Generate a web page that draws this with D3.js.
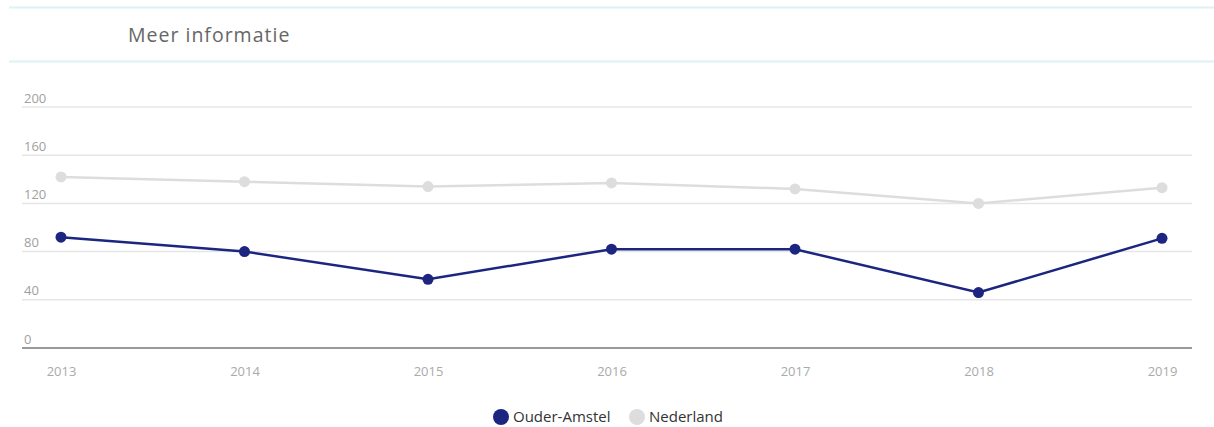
<!DOCTYPE html>
<html>
<head>
<meta charset="utf-8">
<script src="https://cdn.jsdelivr.net/npm/d3@7"></script>
<style>
    body { margin: 0; background: #fff; font-family: "Open Sans", sans-serif; }
</style>
</head>
<body>
<div id="chart"></div>
<script>
// chart data
var years = ["2013", "2014", "2015", "2016", "2017", "2018", "2019"];
var ouderAmstel = [92, 80, 57, 82, 82, 46, 91];
var nederland = [142, 138, 134, 137, 132, 120, 133];
var yTicks = [0, 40, 80, 120, 160, 200];
var seriesNames = ["Ouder-Amstel", "Nederland"];
var seriesColors = ["#1c2580", "#dddddd"];

var width = 1214, height = 427;
var margin = {top: 107, right: 22, bottom: 79, left: 22};

var svg = d3.select("#chart")
    .append("svg")
    .attr("width", width)
    .attr("height", height);

// header block
svg.append("line")
    .attr("x1", 9).attr("x2", width).attr("y1", 7.5).attr("y2", 7.5)
    .attr("stroke", "#e0f1f1").attr("stroke-width", 2);
svg.append("line")
    .attr("x1", 9).attr("x2", width).attr("y1", 61.5).attr("y2", 61.5)
    .attr("stroke", "#e0f1f1").attr("stroke-width", 2);
svg.append("text")
    .attr("x", 128).attr("y", 42)
    .style("font-family", "Open Sans, sans-serif")
    .style("font-size", "19.5px")
    .style("letter-spacing", "1px")
    .style("fill", "#666")
    .text("Meer informatie");

var plotW = width - margin.left - margin.right;
var plotH = height - margin.top - margin.bottom;

var g = svg.append("g")
    .attr("transform", "translate(" + margin.left + "," + margin.top + ")");

var x = d3.scalePoint()
    .domain(years)
    .range([39, plotW - 30]);

var y = d3.scaleLinear()
    .domain([0, 200])
    .range([plotH, 0]);

// gridlines + y labels
var grid = g.selectAll(".grid")
    .data(yTicks)
    .enter().append("g")
    .attr("class", "grid")
    .attr("transform", function (d) { return "translate(0," + y(d) + ")"; });

grid.append("line")
    .attr("x1", 0).attr("x2", plotW)
    .attr("stroke", function (d) { return d === 0 ? "#777" : "#e6e6e6"; })
    .attr("stroke-width", 1.5);

grid.append("text")
    .attr("x", 2).attr("y", -4.5)
    .style("font-size", "13px")
    .style("fill", "#a0a0a0")
    .text(function (d) { return d; });

// x axis labels
var xAxis = d3.axisBottom(x).tickSize(0);
g.append("g")
    .attr("transform", "translate(0," + plotH + ")")
    .call(xAxis)
    .call(function (s) { s.select(".domain").remove(); })
    .selectAll("text")
    .attr("y", 28)
    .attr("dy", 0)
    .style("font-family", "Open Sans, sans-serif")
    .style("font-size", "13px")
    .style("fill", "#aaa");

var line = d3.line()
    .x(function (d, i) { return x(years[i]); })
    .y(function (d) { return y(d); });

// draw Nederland first so Ouder-Amstel is on top
[nederland, ouderAmstel].forEach(function (vals) {
    var color = vals === ouderAmstel ? seriesColors[0] : seriesColors[1];
    g.append("path")
        .datum(vals)
        .attr("fill", "none")
        .attr("stroke", color)
        .attr("stroke-width", 2.5)
        .attr("d", line);
    g.selectAll(null)
        .data(vals)
        .enter().append("circle")
        .attr("cx", function (d, i) { return x(years[i]); })
        .attr("cy", function (d) { return y(d); })
        .attr("r", 5.5)
        .attr("fill", color);
});

// legend
var legend = svg.append("g").attr("transform", "translate(501,417)");
var legendX = [0, 136];
var items = legend.selectAll(".legend")
    .data(seriesNames)
    .enter().append("g")
    .attr("class", "legend")
    .attr("transform", function (d, i) { return "translate(" + legendX[i] + ",0)"; });

items.append("circle")
    .attr("r", 8)
    .attr("fill", function (d, i) { return seriesColors[i]; });

items.append("text")
    .attr("x", 12).attr("y", 5)
    .style("font-family", "Open Sans, sans-serif")
    .style("font-size", "15px")
    .style("fill", "#333")
    .text(function (d) { return d; });
</script>
</body>
</html>
